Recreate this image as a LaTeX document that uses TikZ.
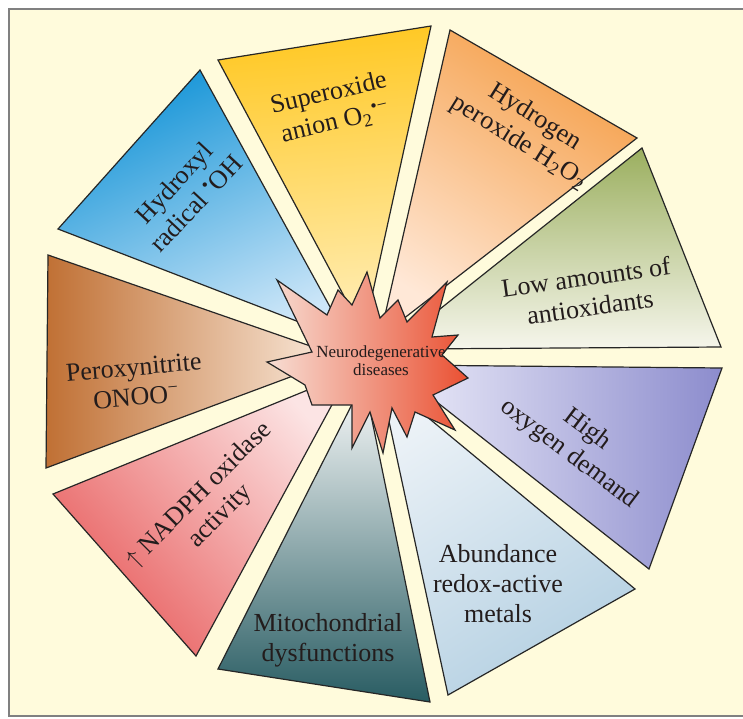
\documentclass[tikz,border=0pt]{standalone}
\usepackage{fontspec}
\setmainfont{Liberation Serif}
\usetikzlibrary{calc}

\definecolor{cream}{RGB}{255,251,220}
\definecolor{frame}{RGB}{128,128,128}
\definecolor{ink}{RGB}{35,28,28}
\definecolor{hyblue}{RGB}{20,148,215}
\definecolor{hypale}{RGB}{205,230,248}
\definecolor{suyel}{RGB}{255,200,35}
\definecolor{supale}{RGB}{255,238,185}
\definecolor{hporg}{RGB}{245,160,75}
\definecolor{hppale}{RGB}{255,232,215}
\definecolor{logrn}{RGB}{155,175,95}
\definecolor{lopale}{RGB}{246,246,236}
\definecolor{hipur}{RGB}{140,140,205}
\definecolor{hipale}{RGB}{238,238,250}
\definecolor{abblu}{RGB}{180,208,226}
\definecolor{abpale}{RGB}{236,242,247}
\definecolor{mitea}{RGB}{40,92,98}
\definecolor{mipale}{RGB}{252,252,252}
\definecolor{nared}{RGB}{232,95,95}
\definecolor{napale}{RGB}{252,228,228}
\definecolor{pebrn}{RGB}{192,112,52}
\definecolor{pepale}{RGB}{252,238,225}
\definecolor{starpale}{RGB}{247,222,212}
\definecolor{starred}{RGB}{234,80,50}

\begin{document}
\begin{tikzpicture}[x=0.5pt, y=-0.5pt,
  wedge/.style={draw=black!85, line width=0.6pt, line join=miter},
  lbl/.style={align=center, text=ink, inner sep=0pt,
    font=\fontsize{13}{15}\selectfont}]
  \useasboundingbox (0,0) rectangle (743,718);
  \fill[cream] (9,9) rectangle (743,716);
  \draw[frame, line width=0.75pt] (743,9) -- (9,9) -- (9,716) -- (743,716);

  % outer corners of the wedges
  \coordinate (c) at (367,357);
  \coordinate (hy1) at (58,229);   \coordinate (hy2) at (200,70);
  \coordinate (su1) at (218,60);   \coordinate (su2) at (431,26);
  \coordinate (hp1) at (450,30);   \coordinate (hp2) at (637,138);
  \coordinate (lo1) at (642,148);  \coordinate (lo2) at (721,347);
  \coordinate (hi1) at (722,368);  \coordinate (hi2) at (649,569);
  \coordinate (ab1) at (635,589);  \coordinate (ab2) at (448,695);
  \coordinate (mi1) at (430,702);  \coordinate (mi2) at (218,669);
  \coordinate (na1) at (196,656);  \coordinate (na2) at (53,494);
  \coordinate (pe1) at (46,468);   \coordinate (pe2) at (48,255);
  \foreach \w in {hy,su,hp,lo,hi,ab,mi,na,pe} {
    \coordinate (\w m) at ($(\w1)!0.5!(\w2)$);
    \coordinate (\w a) at ($(c)!12pt!(\w m)$);
  }

  \draw[wedge, top color=hyblue, bottom color=hypale, shading angle=25]
    (hy1) -- (hy2) -- (hya) -- cycle;
  \draw[wedge, top color=suyel, bottom color=supale, shading angle=5]
    (su1) -- (su2) -- (sua) -- cycle;
  \draw[wedge, top color=hporg, bottom color=hppale, shading angle=-33]
    (hp1) -- (hp2) -- (hpa) -- cycle;
  \draw[wedge, top color=logrn, bottom color=lopale]
    (lo1) -- (lo2) -- (loa) -- cycle;
  \draw[wedge, left color=hipale, right color=hipur]
    (hi1) -- (hi2) -- (hia) -- cycle;
  \draw[wedge, top color=abblu, bottom color=abpale, shading angle=-148]
    (ab1) -- (ab2) -- (aba) -- cycle;
  \draw[wedge, top color=mipale, bottom color=mitea]
    (mi1) -- (mi2) -- (mia) -- cycle;
  \draw[wedge, top color=nared, bottom color=napale, shading angle=132]
    (na1) -- (na2) -- (naa) -- cycle;
  \draw[wedge, left color=pebrn, right color=pepale]
    (pe1) -- (pe2) -- (pea) -- cycle;

  % the star in the middle
  \draw[wedge, left color=starpale, right color=starred]
    (277,280) -- (327,315) -- (338,290) -- (352,305) -- (367,272)
    -- (380,318) -- (398,300) -- (407,322) -- (447,282) -- (432,337)
    -- (458,335) -- (442,355) -- (468,378) -- (433,395) -- (455,430)
    -- (415,412) -- (407,437) -- (392,408) -- (383,453) -- (370,412)
    -- (352,448) -- (352,405) -- (312,405) -- (305,385) -- (267,362)
    -- (312,352) -- cycle;

  \node[lbl, rotate=47] (hytx) at (185,193) {Hydroxyl\\radical \textsuperscript{•}OH};
  \node[lbl, rotate=13] (sutx) at (332,108) {Superoxide\\anion O\textsubscript{2}\textsuperscript{•−}};
  \node[lbl, rotate=-32] (hptx) at (527,130) {Hydrogen\\peroxide H\textsubscript{2}O\textsubscript{2}};
  \node[lbl, rotate=8] (lotx) at (588,292) {Low amounts of\\antioxidants};
  \node[lbl, rotate=-37] (hitx) at (578,442) {High\\oxygen demand};
  \node[lbl] (abtx) at (498,584) {Abundance\\redox-active\\metals};
  \node[lbl] (mitx) at (328,640) {Mitochondrial\\dysfunctions};
  \node[lbl, rotate=45] (natx) at (210,506) {$\uparrow$ NADPH oxidase\\activity};
  \node[lbl, rotate=5] (petx) at (135,382) {Peroxynitrite\\ONOO\textsuperscript{−}};
  \node[lbl, font=\fontsize{8.5}{9}\selectfont] (nd) at (381,361) {Neurodegenerative\\diseases};
\end{tikzpicture}
\end{document}
